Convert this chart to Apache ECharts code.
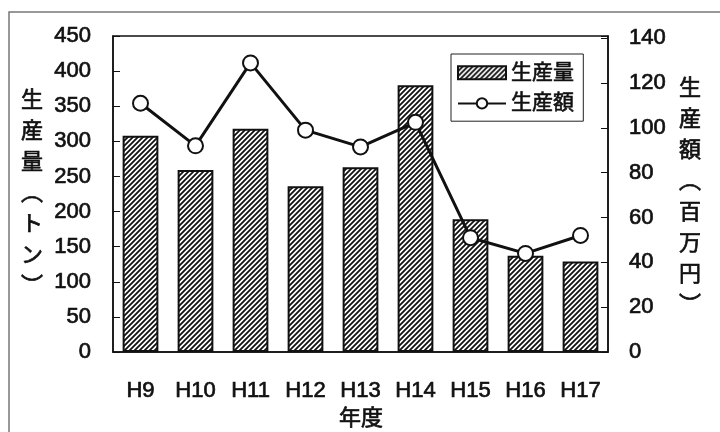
<!DOCTYPE html>
<html>
<head>
<meta charset="utf-8">
<script src="https://cdn.jsdelivr.net/npm/echarts@6/dist/echarts.min.js"></script>
<style>
  html, body { margin: 0; padding: 0; background: #fff; }
  #chart { width: 720px; height: 432px; }
</style>
</head>
<body>
<div id="chart"></div>
<script>
// Fiscal years
const years = ['H9', 'H10', 'H11', 'H12', 'H13', 'H14', 'H15', 'H16', 'H17'];
// Production volume (tonnes)
const volume = [308, 259, 318, 236, 263, 380, 189, 137, 129];
// Production value (million yen)
const value = [111, 92, 129, 99, 91.5, 102.5, 51, 44, 52];
// Axis label ticks
const volumeTicks = [0, 50, 100, 150, 200, 250, 300, 350, 400, 450];
const valueTicks = [0, 20, 40, 60, 80, 100, 120, 140];

const volumeName = '生産量';
const valueName = '生産額';
const volumeAxisTitle = ['生', '産', '量', '︵', 'ト', 'ン', '︶'];
const valueAxisTitle = ['生', '産', '額', '︵', '百', '万', '円', '︶'];
const xAxisTitle = '年度';

const FONT = "'Liberation Sans', Arial, 'Noto Sans CJK JP', sans-serif";
const INK = '#111';

// Diagonal hatching tile for the bars
function hatchTile() {
  const s = 5;
  const c = document.createElement('canvas');
  c.width = s; c.height = s;
  const g = c.getContext('2d');
  g.fillStyle = '#fff';
  g.fillRect(0, 0, s, s);
  g.strokeStyle = INK;
  g.lineWidth = 1.8;
  g.beginPath();
  g.moveTo(-1, s + 1); g.lineTo(s + 1, -1);
  g.moveTo(-2, 2); g.lineTo(2, -2);
  g.moveTo(s - 2, s + 2); g.lineTo(s + 2, s - 2);
  g.stroke();
  return c;
}
const hatch = { image: hatchTile(), repeat: 'repeat' };

const chart = echarts.init(document.getElementById('chart'), null, { renderer: 'canvas' });

// Slightly heavier regular text
const labelStyle = {
  fontFamily: FONT, fontSize: 22, color: INK,
  textBorderColor: INK, textBorderWidth: 0.7
};
const titleStyle = {
  fontFamily: FONT, fontSize: 22, lineHeight: 31, fill: INK,
  stroke: INK, lineWidth: 0.7, align: 'center', verticalAlign: 'middle'
};

chart.setOption({
  backgroundColor: '#fff',
  animation: false,
  grid: {
    left: 113, top: 36, right: 112, bottom: 80,
    show: true, borderColor: INK, borderWidth: 1.5, backgroundColor: 'transparent'
  },
  legend: {
    orient: 'vertical',
    left: 451, top: 54,
    padding: [8, 9, 7, 6],
    itemGap: 9,
    itemWidth: 48, itemHeight: 13,
    backgroundColor: '#fff',
    borderColor: '#222', borderWidth: 1,
    textStyle: {
      fontFamily: FONT, fontSize: 21, color: INK,
      textBorderColor: INK, textBorderWidth: 0.6
    },
    data: [{ name: volumeName, icon: 'rect' }, { name: valueName }]
  },
  xAxis: {
    type: 'category',
    data: years,
    boundaryGap: true,
    axisLine: { lineStyle: { color: INK, width: 1.5 } },
    axisTick: { inside: true, length: 6, lineStyle: { color: INK } },
    axisLabel: Object.assign({ margin: 28 }, labelStyle)
  },
  yAxis: [
    {
      type: 'value', min: 0, max: 450, interval: 50,
      axisLine: { show: true, lineStyle: { color: INK, width: 1.5 } },
      axisTick: { show: true, inside: true, length: 7, lineStyle: { color: INK } },
      axisLabel: Object.assign({
        margin: 22,
        formatter: v => volumeTicks.includes(v) ? String(v) : ''
      }, labelStyle),
      splitLine: { show: false }
    },
    {
      type: 'value', min: 0, max: 141, interval: 20,
      axisLine: { show: true, lineStyle: { color: INK, width: 1.5 } },
      axisTick: { show: true, inside: true, length: 7, lineStyle: { color: INK } },
      axisLabel: Object.assign({
        margin: 21,
        formatter: v => valueTicks.includes(v) ? String(v) : ''
      }, labelStyle),
      splitLine: { show: false }
    }
  ],
  series: [
    {
      name: volumeName,
      type: 'bar',
      yAxisIndex: 0,
      data: volume,
      barWidth: '65%',
      itemStyle: { color: hatch, borderColor: INK, borderWidth: 2 }
    },
    {
      name: valueName,
      type: 'line',
      yAxisIndex: 1,
      data: value,
      symbol: 'circle',
      symbolSize: 15,
      lineStyle: { color: INK, width: 3 },
      itemStyle: { color: '#fff', borderColor: INK, borderWidth: 2 },
      z: 5
    }
  ],
  graphic: [
    {
      type: 'rect', silent: true, z: -1,
      shape: { x: 9, y: 12, width: 720, height: 430 },
      style: { fill: 'none', stroke: '#777', lineWidth: 1.5 }
    },
    {
      type: 'text', x: 32, y: 194,
      style: Object.assign({ text: volumeAxisTitle.join('\n') }, titleStyle)
    },
    {
      type: 'text', x: 690, y: 197,
      style: Object.assign({ text: valueAxisTitle.join('\n') }, titleStyle)
    },
    {
      type: 'text', x: 361, y: 419,
      style: Object.assign({ text: xAxisTitle }, titleStyle)
    }
  ]
});
</script>
</body>
</html>
